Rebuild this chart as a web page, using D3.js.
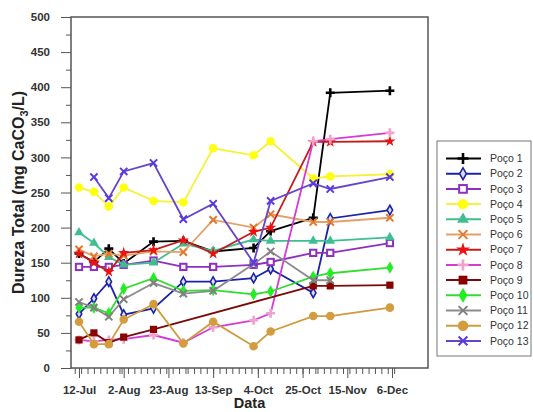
<!DOCTYPE html>
<html lang="pt">
<head>
<meta charset="UTF-8">
<title>Dureza Total</title>
<script src="https://d3js.org/d3.v7.min.js"></script>
<style>
  body { margin: 0; background: #fff; }
  text { font-family: "Liberation Sans", Arial, sans-serif; }
  .tick text { font-weight: bold; font-size: 11.5px; fill: #333; }
  .tick line { stroke: #555; }
</style>
</head>
<body>
<script>
// datas de amostragem
const dates = ["2012-07-12","2012-07-19","2012-07-26","2012-08-02","2012-08-16","2012-08-30",
               "2012-09-13","2012-10-02","2012-10-10","2012-10-30","2012-11-07","2012-12-05"];
const xTicks = ["2012-07-12","2012-08-02","2012-08-23","2012-09-13","2012-10-04","2012-10-25","2012-11-15","2012-12-06"];
const yTicks = [0, 50, 100, 150, 200, 250, 300, 350, 400, 450, 500];

const poco1  = [163, 151, 170, 149, 180, 181, 166, 171, 195, 214, 392, 395];
const poco2  = [77, 99, 123, 76, 85, 123, 123, 128, 141, 107, 213, 225];
const poco3  = [144, 144, 144, 147, 153, 144, 144, 147, 151, 164, 164, 178];
const poco4  = [257, 251, 230, 257, 238, 236, 313, 303, 323, 270, 273, 276];
const poco5  = [193, 178, 158, 147, 150, 177, 167, 183, 181, 181, 181, 186];
const poco6  = [169, 159, 163, 160, 166, 165, 211, 200, 219, 208, 208, 214];
const poco7  = [163, 150, 137, 164, 168, 182, 163, 194, 200, 322, 322, 323];
const poco8  = [40, 38, 40, 41, 47, 36, 58, 68, 78, 323, 326, 335];
const poco9  = [40, 50, 36, 44, 55, null, null, null, null, 117, 117, 118];
const poco10 = [86, 86, 78, 113, 128, 110, 111, 105, 109, 130, 135, 143];
const poco11 = [94, 86, 73, 98, 121, 106, 110, 148, 166, 125, 125, null];
const poco12 = [66, 34, 34, 69, 91, 35, 66, 31, 52, 74, 74, 86];
const poco13 = [null, 272, 242, 280, 292, 212, 234, 150, 238, 263, 255, 272];

const names = ["Poço 1","Poço 2","Poço 3","Poço 4","Poço 5","Poço 6","Poço 7",
               "Poço 8","Poço 9","Poço 10","Poço 11","Poço 12","Poço 13"];
const values = [poco1, poco2, poco3, poco4, poco5, poco6, poco7, poco8, poco9, poco10, poco11, poco12, poco13];

// estilo de cada série: linha, marcador, cor do marcador
const styles = [
  {line: "#000000", mark: "plus",    color: "#000000"},
  {line: "#1c22a8", mark: "diamondO", color: "#1c22a8"},
  {line: "#8e2fc0", mark: "squareO", color: "#8e2fc0"},
  {line: "#f4f23a", mark: "circle",  color: "#ffff10"},
  {line: "#3fbf90", mark: "triangle", color: "#3fbf90"},
  {line: "#e6a066", mark: "x",       color: "#e07a30"},
  {line: "#c41a1a", mark: "star",    color: "#ee1010"},
  {line: "#d43cd4", mark: "plus",    color: "#f4a0cc"},
  {line: "#7a0a0a", mark: "square",  color: "#8a0000"},
  {line: "#30dd30", mark: "diamond", color: "#22ee22"},
  {line: "#8c8c8c", mark: "x",       color: "#808080"},
  {line: "#cf9b3e", mark: "circle",  color: "#d39c3c"},
  {line: "#6446cc", mark: "x",       color: "#5a3ae0"}
];

const parse = d3.utcParse("%Y-%m-%d");
const W = 533, H = 412;
const frame = {left: 71, top: 17, right: 428, bottom: 368};

const svg = d3.select("body").append("svg").attr("width", W).attr("height", H);

const x = d3.scaleUtc().domain([parse("2012-07-12"), parse("2012-12-06")]).range([79, 392]);
const y = d3.scaleLinear().domain([0, 500]).range([frame.bottom, frame.top]);

// eixo x
const minorX = d3.utcDay.every(3).range(parse("2012-07-09"), parse("2012-12-10"));
svg.append("g").attr("transform", `translate(0,${frame.bottom})`)
  .call(d3.axisBottom(x).tickValues(minorX).tickSize(6).tickFormat(""))
  .call(g => g.select(".domain").remove());
svg.append("g").attr("transform", `translate(0,${frame.bottom})`)
  .call(d3.axisBottom(x).tickValues(xTicks.map(parse)).tickSize(10).tickPadding(8)
        .tickFormat(d3.utcFormat("%-d-%b")))
  .call(g => g.select(".domain").remove());

// eixo y
svg.append("g").attr("transform", `translate(${frame.left},0)`)
  .call(d3.axisLeft(y).tickValues(d3.range(25, 500, 50)).tickSize(5).tickFormat(""))
  .call(g => g.select(".domain").remove());
svg.append("g").attr("transform", `translate(${frame.left},0)`)
  .call(d3.axisLeft(y).tickValues(yTicks).tickSize(10).tickPadding(11))
  .call(g => g.select(".domain").remove());

svg.append("rect")
  .attr("x", frame.left).attr("y", frame.top)
  .attr("width", frame.right - frame.left).attr("height", frame.bottom - frame.top)
  .attr("fill", "none").attr("stroke", "#555").attr("stroke-width", 1.5);

svg.append("text")
  .attr("x", (frame.left + frame.right) / 2).attr("y", 408)
  .attr("text-anchor", "middle").style("font-size", "14.5px").style("font-weight", "bold")
  .attr("fill", "#222").text("Data");

const yt = svg.append("text")
  .attr("transform", `translate(24,${(frame.top + frame.bottom) / 2}) rotate(-90)`)
  .attr("text-anchor", "middle").style("font-size", "16px").style("font-weight", "bold")
  .attr("fill", "#222");
yt.append("tspan").text("Dureza Total (mg CaCO");
yt.append("tspan").attr("dy", 4).style("font-size", "11px").text("3");
yt.append("tspan").attr("dy", -4).text("/L)");

// marcadores
function marker(g, st, s) {
  const c = st.color;
  switch (st.mark) {
    case "plus":
      g.append("path").attr("d", `M${-s},0H${s}M0,${-s}V${s}`)
        .attr("stroke", c).attr("stroke-width", 2.6).attr("fill", "none");
      break;
    case "x":
      g.append("path").attr("d", `M${-s*0.8},${-s*0.8}L${s*0.8},${s*0.8}M${-s*0.8},${s*0.8}L${s*0.8},${-s*0.8}`)
        .attr("stroke", c).attr("stroke-width", 2).attr("fill", "none");
      break;
    case "circle":
      g.append("circle").attr("r", s * 0.95).attr("fill", c);
      break;
    case "square":
      g.append("rect").attr("x", -s*0.8).attr("y", -s*0.8).attr("width", s*1.6).attr("height", s*1.6).attr("fill", c);
      break;
    case "squareO":
      g.append("rect").attr("x", -s*0.7).attr("y", -s*0.7).attr("width", s*1.4).attr("height", s*1.4)
        .attr("fill", "#fff").attr("stroke", c).attr("stroke-width", 2);
      break;
    case "diamond":
      g.append("path").attr("d", d3.symbol(d3.symbolDiamond, s * s * 2.2)).attr("fill", c);
      break;
    case "diamondO":
      g.append("path").attr("d", d3.symbol(d3.symbolDiamond, s * s * 1.3))
        .attr("fill", "#dde").attr("stroke", c).attr("stroke-width", 1.6);
      break;
    case "triangle":
      g.append("path").attr("d", d3.symbol(d3.symbolTriangle, s * s * 2)).attr("fill", c);
      break;
    case "star":
      g.append("path").attr("d", d3.symbol(d3.symbolStar, s * s * 2)).attr("fill", c);
      break;
  }
}

const line = d3.line().x(d => x(d.date)).y(d => y(d.v));

values.forEach((vals, i) => {
  const pts = vals.map((v, j) => ({date: parse(dates[j]), v})).filter(d => d.v != null);
  const g = svg.append("g");
  g.append("path").datum(pts).attr("d", line)
    .attr("fill", "none").attr("stroke", styles[i].line).attr("stroke-width", 1.8);
  pts.forEach(p => {
    marker(g.append("g").attr("transform", `translate(${x(p.date)},${y(p.v)})`), styles[i], 4.5);
  });
});

// legenda
const leg = svg.append("g");
leg.append("rect").attr("x", 437).attr("y", 141).attr("width", 94).attr("height", 215)
  .attr("fill", "#fff").attr("stroke", "#777").attr("stroke-width", 1);
names.forEach((n, i) => {
  const yy = 158.5 + i * 15.2;
  const g = leg.append("g").attr("transform", `translate(0,${yy})`);
  g.append("line").attr("x1", 446).attr("x2", 481).attr("stroke", styles[i].line).attr("stroke-width", 2);
  marker(g.append("g").attr("transform", "translate(463,0)"), styles[i], 5.5);
  g.append("text").attr("x", 490).attr("dy", "0.35em").style("font-size", "10.5px")
    .attr("fill", "#333").text(n);
});
</script>
</body>
</html>
